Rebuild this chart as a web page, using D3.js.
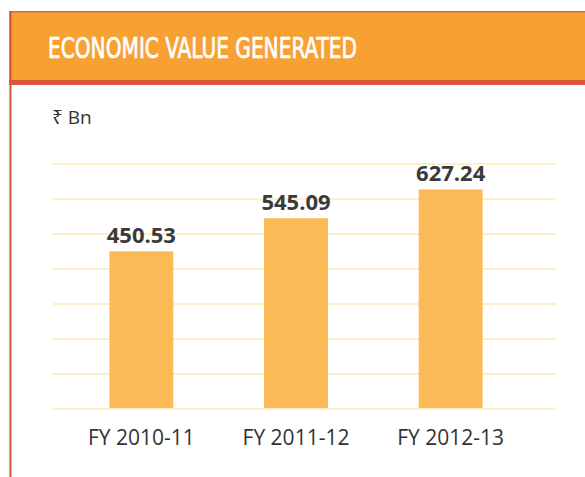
<!DOCTYPE html>
<html>
<head>
<meta charset="utf-8">
<script src="https://cdn.jsdelivr.net/npm/d3@7"></script>
<style>
  body { margin: 0; background: #fff; }
  svg { display: block; }
</style>
</head>
<body>
<div id="chart"></div>
<script>
// Economic value generated, ₹ Bn
const years = ['FY 2010-11', 'FY 2011-12', 'FY 2012-13'];
const values = [450.53, 545.09, 627.24];
const gridTicks = [0, 100, 200, 300, 400, 500, 600, 700];

const colors = { header: '#F7A033', border: '#D6573B', bar: '#FBBA55', grid: '#FDEFC8', text: '#3a3a3a' };

const W = 585, H = 477;
const svg = d3.select('#chart').append('svg').attr('width', W).attr('height', H);

// header panel
svg.append('rect').attr('x', 9).attr('y', 11).attr('width', W - 9).attr('height', 70).attr('fill', colors.header);
svg.append('rect').attr('x', 9).attr('y', 11).attr('width', W - 9).attr('height', 1.5).attr('fill', '#DA6A48');
svg.append('rect').attr('x', 9).attr('y', 80).attr('width', W - 9).attr('height', 5).attr('fill', colors.border);
svg.append('rect').attr('x', 9.5).attr('y', 11).attr('width', 2).attr('height', H - 11).attr('fill', colors.border);

// medium weight: regular glyphs with a thin white stroke
svg.append('text').attr('x', 48).attr('y', 58)
    .attr('font-family', '"Liberation Sans Narrow", "DejaVu Sans Condensed", "Roboto", sans-serif')
    .attr('font-size', '28px').attr('fill', '#fff')
    .attr('stroke', '#fff').attr('stroke-width', 0.7)
    .attr('textLength', 309).attr('lengthAdjust', 'spacingAndGlyphs')
    .text('ECONOMIC VALUE GENERATED');

svg.append('text').attr('x', 52).attr('y', 124)
    .attr('font-family', '"Open Sans", "Noto Sans", sans-serif')
    .attr('font-size', '19px').attr('fill', '#333')
    .text('₹ Bn');

const y = d3.scaleLinear().domain([0, 700]).range([409, 164]);
const x = d3.scaleBand().domain(years).range([64, 528]).paddingInner(0.587).paddingOuter(0.2935);

// gridlines
svg.append('g').selectAll('line').data(gridTicks).enter().append('line')
    .attr('x1', 53).attr('x2', 556)
    .attr('y1', d => y(d)).attr('y2', d => y(d))
    .attr('stroke', colors.grid).attr('stroke-width', 2);

svg.append('g').selectAll('rect').data(values).enter().append('rect')
    .attr('x', (d, i) => x(years[i])).attr('width', x.bandwidth())
    .attr('y', d => y(d)).attr('height', d => y(0) - y(d) - 1)
    .attr('fill', colors.bar);

svg.append('g').selectAll('text').data(values).enter().append('text')
    .attr('x', (d, i) => x(years[i]) + x.bandwidth() / 2)
    .attr('y', d => y(d) - 8)
    .attr('text-anchor', 'middle')
    .attr('font-family', '"Open Sans", "Noto Sans", sans-serif')
    .attr('font-weight', 'bold').attr('font-size', '22px').attr('fill', colors.text)
    .text(d => d.toFixed(2));

// category axis labels
const xAxis = svg.append('g').attr('transform', 'translate(0,409)')
    .call(d3.axisBottom(x).tickSize(0).tickPadding(21));
xAxis.select('.domain').remove();
xAxis.selectAll('text')
    .attr('font-family', '"Open Sans", "Noto Sans", sans-serif')
    .attr('font-size', '21px').attr('fill', '#333');
</script>
</body>
</html>
